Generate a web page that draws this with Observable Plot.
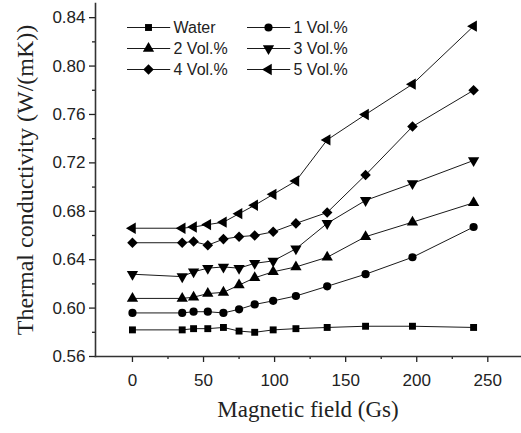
<!DOCTYPE html>
<html><head><meta charset="utf-8">
<script src="https://cdn.jsdelivr.net/npm/d3@7"></script>
<script src="https://cdn.jsdelivr.net/npm/@observablehq/plot@0.6"></script>
<style>
body{margin:0;background:#fff;}
#wrap{position:relative;width:521px;height:433px;}
#wrap svg text{fill:#222;}
#legend{position:absolute;left:122px;top:14px;}
[aria-label="y-axis label"] text{font-family:"Liberation Serif",serif;font-size:24px;}
[aria-label="x-axis label"] text{font-family:"Liberation Serif",serif;font-size:23px;}
</style></head><body><div id="wrap"></div>
<script>
const field = [0, 35, 43, 53, 64, 75, 86, 99, 115, 137, 164, 197, 240];
const water = [0.582, 0.582, 0.583, 0.583, 0.584, 0.581, 0.580, 0.582, 0.583, 0.584, 0.585, 0.585, 0.584];
const vol1  = [0.596, 0.596, 0.597, 0.597, 0.596, 0.599, 0.603, 0.606, 0.610, 0.618, 0.628, 0.642, 0.667];
const vol2  = [0.608, 0.608, 0.609, 0.612, 0.613, 0.619, 0.625, 0.630, 0.634, 0.642, 0.659, 0.671, 0.687];
const vol3  = [0.628, 0.626, 0.630, 0.633, 0.634, 0.633, 0.637, 0.639, 0.649, 0.670, 0.689, 0.703, 0.722];
const vol4  = [0.654, 0.654, 0.655, 0.652, 0.657, 0.659, 0.660, 0.663, 0.670, 0.679, 0.710, 0.750, 0.780];
const vol5  = [0.666, 0.666, 0.667, 0.669, 0.671, 0.678, 0.685, 0.694, 0.705, 0.739, 0.760, 0.785, 0.833];
const seriesNames = ["Water", "1 Vol.%", "2 Vol.%", "3 Vol.%", "4 Vol.%", "5 Vol.%"];
const seriesValues = [water, vol1, vol2, vol3, vol4, vol5];
const yTicks = [0.56, 0.60, 0.64, 0.68, 0.72, 0.76, 0.80, 0.84];
const yMinor = [0.58, 0.62, 0.66, 0.70, 0.74, 0.78, 0.82];
const xTicks = [0, 50, 100, 150, 200, 250];
const xMinor = [25, 75, 125, 175, 225];

const S3 = Math.sqrt(3);
function tri(rot) {
  return {draw(ctx, size) {
    const a = Math.sqrt(size * 4 / S3) * 1.05, h = a * S3 / 2;
    const pts = [[0, -2*h/3], [-a/2, h/3], [a/2, h/3]];
    const c = Math.cos(rot), s = Math.sin(rot);
    pts.forEach(([x, y], i) => {
      const X = x*c - y*s, Y = x*s + y*c;
      i ? ctx.lineTo(X, Y) : ctx.moveTo(X, Y);
    });
    ctx.closePath();
  }};
}
const diamond = {draw(ctx, size) {
  const d = Math.sqrt(size / 2) * 1.05;
  ctx.moveTo(0, -d); ctx.lineTo(d, 0); ctx.lineTo(0, d); ctx.lineTo(-d, 0); ctx.closePath();
}};
const symbols = [d3.symbolSquare, d3.symbolCircle, tri(0), tri(Math.PI), diamond, tri(-Math.PI/2)];
const radii = [3.9, 4.1, 4, 4, 4, 4];

const marks = [];
seriesValues.forEach((vals, i) => {
  const rows = field.map((x, j) => ({x, y: vals[j]}));
  marks.push(Plot.line(rows, {x: "x", y: "y", stroke: "#1a1a1a", strokeWidth: 1}));
  marks.push(Plot.dot(rows, {x: "x", y: "y", symbol: symbols[i], r: radii[i], fill: "#000", stroke: "none"}));
});

const chart = Plot.plot({
  width: 521, height: 433,
  marginLeft: 95, marginTop: 3, marginBottom: 77, marginRight: 1,
  style: {fontFamily: "'Liberation Sans', Arial, sans-serif", background: "#fff", color: "#222"},
  x: {domain: [-26, 273]},
  y: {domain: [0.56, 0.8517]},
  marks: [
    Plot.axisY(yTicks, {tickFormat: d3.format(".2f"), tickSize: 6, tickPadding: 4, fontSize: 17, strokeWidth: 1.3,
      label: "Thermal conductivity (W/(mK))", labelAnchor: "center", labelOffset: 80, labelArrow: "none"}),
    Plot.axisY(yMinor, {tickFormat: () => "", tickSize: 3, strokeWidth: 1.3, label: null}),
    Plot.axisX(xTicks, {tickSize: 6, tickPadding: 11, fontSize: 17, strokeWidth: 1.3,
      label: "Magnetic field (Gs)", labelAnchor: "center", labelOffset: 60, labelArrow: "none"}),
    Plot.axisX(xMinor, {tickFormat: () => "", tickSize: 3, strokeWidth: 1.3, label: null}),
    Plot.frame({anchor: "left", stroke: "#333", strokeWidth: 1.6}),
    Plot.frame({anchor: "bottom", stroke: "#333", strokeWidth: 1.6}),
    ...marks
  ]
});
document.getElementById("wrap").appendChild(chart);

const legendRows = seriesNames.map((name, i) => ({name, col: i % 2, row: Math.floor(i / 2), i}));
const legendMarks = [
  Plot.ruleY(legendRows, {y: "row", x1: "col", x2: d => d.col + 0.36, dx: 5, stroke: "#1a1a1a", strokeWidth: 1.2}),
  Plot.text(legendRows, {x: "col", y: "row", text: "name", textAnchor: "start", dx: 51, fontSize: 16, fill: "#222"})
];
legendRows.forEach(d => {
  legendMarks.push(Plot.dot([d], {x: "col", y: "row", dx: 26, symbol: symbols[d.i], r: radii[d.i], fill: "#000", stroke: "none"}));
});
const legend = Plot.plot({
  width: 260, height: 70, margin: 0,
  style: {fontFamily: "'Liberation Sans', Arial, sans-serif", background: "transparent"},
  x: {domain: [0, 1], range: [0, 120], axis: null},
  y: {domain: [0, 1, 2], type: "point", padding: 0, range: [12, 55], axis: null},
  marks: legendMarks
});
legend.id = "legend";
document.getElementById("wrap").appendChild(legend);
</script>
</body></html>
